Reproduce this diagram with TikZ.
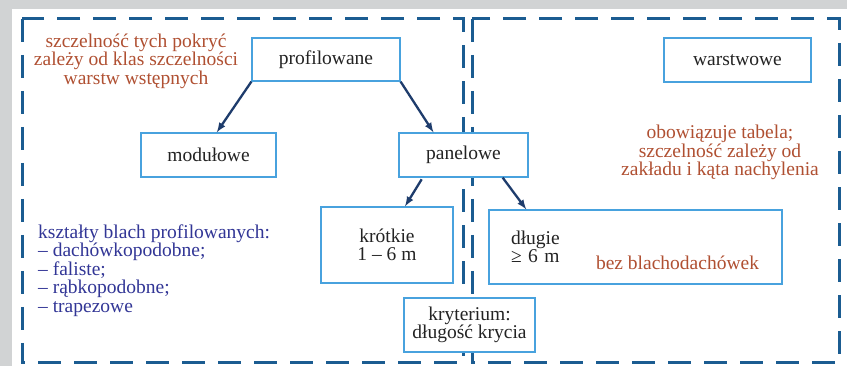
\documentclass[tikz,border=0pt]{standalone}
\usepackage{fontspec}
\setmainfont{Liberation Serif}
\usetikzlibrary{arrows,positioning}

\definecolor{framecol}{RGB}{27,92,145}
\definecolor{boxcol}{RGB}{72,162,222}
\definecolor{arrowcol}{RGB}{30,60,108}
\definecolor{notered}{RGB}{176,80,50}
\definecolor{noteblue}{RGB}{50,54,150}
\definecolor{textgray}{RGB}{35,35,35}
\definecolor{bggray}{RGB}{209,211,212}

\begin{document}
\begin{tikzpicture}[x=1pt, y=-1pt,
    font=\rmfamily\fontsize{19.5}{18.5}\selectfont,
    box/.style={draw=boxcol, line width=1.2pt, fill=white, text=textgray, inner sep=0pt, align=center},
    frame/.style={draw=framecol, line width=3pt, dash pattern=on 23pt off 13pt},
    arrow/.style={-latex, draw=arrowcol, line width=2.3pt},
    note/.style={text=notered, align=center, inner sep=0pt}
]
    % background and the two dashed groups
    \fill[bggray] (0,0) rectangle (847,366);
    \fill[white] (12,9) rectangle (847,366);
    \draw[frame] (22,19) rectangle (463,363);
    \draw[frame] (472,19) rectangle (839,363);

    % boxes
    \node[box, minimum width=148pt, minimum height=43pt] (prof) at (326,59.5) {profilowane};
    \node[box, minimum width=135pt, minimum height=44pt] (modul) at (208.5,155) {modułowe};
    \node[box, minimum width=129pt, minimum height=44pt] (panel) at (463.5,155) {panelowe};
    \node[box, minimum width=147pt, minimum height=44pt] (warst) at (737.5,60) {warstwowe};
    \node[box, minimum width=132pt, minimum height=76pt] (krot) at (387,245) {krótkie\\1 -- 6 m};
    \node[box, minimum width=293pt, minimum height=74pt, text width=249pt, inner xsep=22pt, align=left] (dlug) at (635.5,247) {długie\\≥ 6 m};
    \node[box, minimum width=131pt, minimum height=54pt] (kryt) at (469.5,325) {kryterium:\\długość krycia};

    % notes
    \node[note] (szczel) at (136,61) {szczelność tych pokryć\\zależy od klas szczelności\\warstw wstępnych};
    \node[note] (tabela) at (720,152.5) {obowiązuje tabela;\\szczelność zależy od\\zakładu i kąta nachylenia};
    \node[note] (bez) at (677.5,263) {bez blachodachówek};
    \node[text=noteblue, align=left, inner sep=0pt, anchor=west] (ksztalty) at (38,270.5)
        {kształty blach profilowanych:\\-- dachówkopodobne;\\-- faliste;\\-- rąbkopodobne;\\-- trapezowe};

    % arrows
    \draw[arrow] (prof.south west) -- (modul.70);
    \draw[arrow] (prof.south east) -- (panel.143);
    \draw[arrow, shorten <=2pt] (panel.209) -- (krot.65);
    \draw[arrow] (panel.330) -- (dlug.161);
\end{tikzpicture}
\end{document}
